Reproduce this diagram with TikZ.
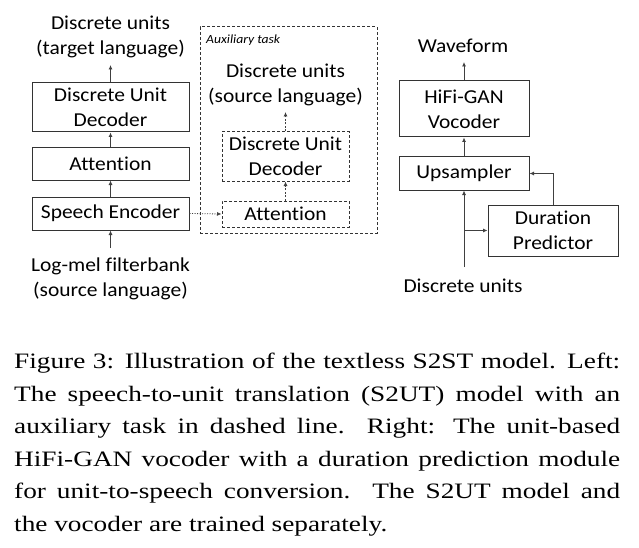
\documentclass[tikz,border=0pt]{standalone}
\usepackage{fontspec}
\usetikzlibrary{arrows.meta}
\newfontfamily\diagfont[FakeStretch=1.09,Ligatures=NoCommon]{Carlito}
\newfontfamily\capfont[FakeStretch=1.24]{Liberation Serif}
\begin{document}
\begin{tikzpicture}[x=1pt,y=-1pt,
  lbl/.style={font=\diagfont\fontsize{19.7pt}{25pt}\selectfont, align=center, inner sep=0pt},
  blk/.style={lbl, draw=black!80, line width=1pt, minimum width=157pt},
  dblk/.style={blk, dashed, dash pattern=on 3pt off 2pt, minimum width=127pt},
  vblk/.style={blk, minimum width=130pt},
  arr/.style={draw=black!75, line width=0.8pt, -{Latex[length=4.5pt,width=4pt]}},
  darr/.style={arr, dash pattern=on 2pt off 1.5pt},
  dotarr/.style={arr, dash pattern=on 1pt off 1.5pt}
]
\useasboundingbox (0,0) rectangle (639,548);
% Left: S2UT
\node[blk, minimum height=49pt] (dud) at (110.5,107.5) {Discrete Unit\\Decoder};
\node[blk, minimum height=32pt] (att) at (110.5,164) {Attention};
\node[blk, minimum height=33pt] (enc) at (110.5,213.5) {Speech Encoder};
\node[lbl] (tgt) at (110.5,37) {Discrete units\\(target language)};
\node[lbl] (src) at (110.5,279) {Log-mel filterbank\\(source language)};
\coordinate (tgtin) at (110.5,65);
\coordinate (srcout) at (110.5,248);
\draw[arr] (srcout) -- (enc);
\draw[arr] (enc) -- (att);
\draw[arr] (att) -- (dud);
\draw[arr] (dud) -- (tgtin);
% Auxiliary task
\node[draw=black!80, line width=1pt, dash pattern=on 3pt off 2pt, minimum width=177pt, minimum height=206pt, inner sep=0pt] (aux) at (288.5,130) {};
\node[font=\diagfont\itshape\fontsize{12.5pt}{14pt}\selectfont, anchor=west, inner sep=0pt] (auxlbl) at (206,40) {Auxiliary task};
\node[dblk, minimum height=49pt] (adud) at (285.5,156.5) {Discrete Unit\\Decoder};
\node[dblk, minimum height=26pt] (aatt) at (285.5,214) {Attention};
\node[lbl] (asrc) at (285.5,85) {Discrete units\\(source language)};
\coordinate (asrcin) at (285.5,112);
\draw[darr] (aatt) -- (adud);
\draw[darr] (adud) -- (asrcin);
\draw[dotarr] (enc.east) -- (aatt.west);
% Right: vocoder
\node[vblk, minimum height=56pt] (hifi) at (464,109) {HiFi-GAN\\Vocoder};
\node[vblk, minimum height=33pt] (ups) at (464,173.5) {Upsampler};
\node[vblk, minimum height=51pt] (dur) at (553,230.5) {Duration\\Predictor};
\node[lbl] (wav) at (463,46) {Waveform};
\node[lbl] (units) at (463,286) {Discrete units};
\coordinate (wavin) at (464,62);
\coordinate (unitsout) at (464,267);
\coordinate (branch) at (464,230.5);
\draw[arr] (unitsout) -- (ups);
\draw[arr] (branch) -- (dur.west);
\draw[arr] (dur.north) |- (ups.east);
\draw[arr] (ups) -- (hifi);
\draw[arr] (hifi) -- (wavin);
% Caption
\node[anchor=north west, inner sep=0pt, font=\capfont\fontsize{22pt}{32.5pt}\selectfont, text width=606pt, align=justify] (cap) at (14,353)
{Figure 3: Illustration of the textless S2ST model. Left:\linebreak
The speech-to-unit translation (S2UT) model with an\linebreak
auxiliary task in dashed line.\ \ Right: The unit-based\linebreak
HiFi-GAN vocoder with a duration prediction module\linebreak
for unit-to-speech conversion.\ \ The S2UT model and\linebreak
the vocoder are trained separately.};
\end{tikzpicture}
\end{document}
